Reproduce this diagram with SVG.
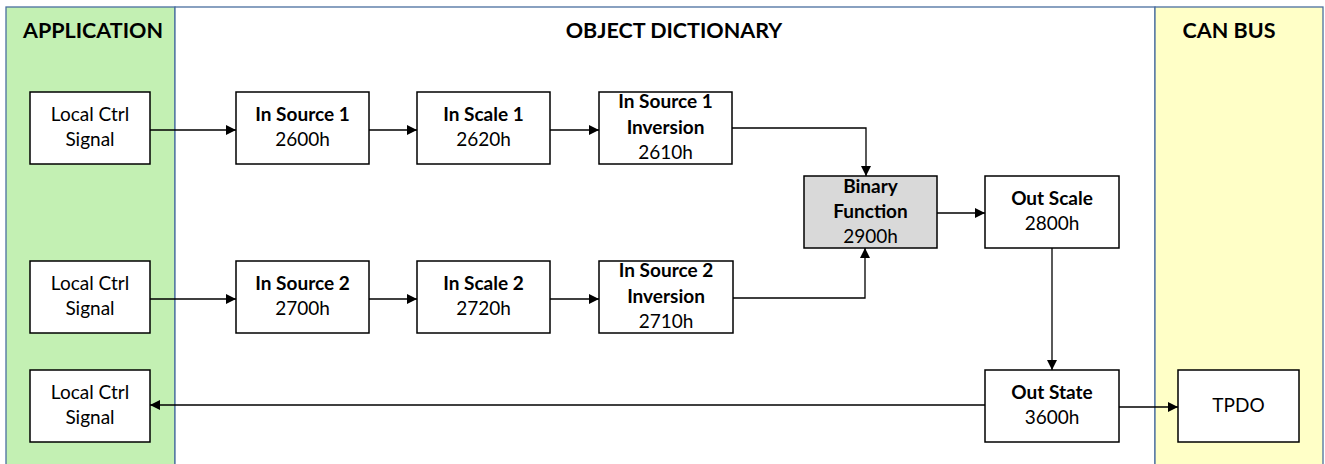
<svg xmlns="http://www.w3.org/2000/svg" width="1325" height="464" viewBox="0 0 1325 464">
<style>
.box{fill:#fff;stroke:#000;stroke-width:1.5}
.t{font-family:Lato,"Liberation Sans",sans-serif;font-size:19px;text-anchor:middle;fill:#000}
.b{font-weight:bold}
.h{font-family:Lato,"Liberation Sans",sans-serif;font-size:21.5px;font-weight:bold;text-anchor:middle;fill:#000}
.c{fill:none;stroke:#000;stroke-width:1.3}
</style>
<defs>
<marker id="ar" viewBox="0 0 10 10" refX="10" refY="5" markerWidth="10" markerHeight="10" markerUnits="userSpaceOnUse" orient="auto">
<path d="M0,0 L10,5 L0,10 Z" fill="#000"/>
</marker>
</defs>
<g id="lanes">
<rect x="0" y="0" width="1325" height="464" fill="#fff"/>
<rect x="6" y="7" width="169" height="460" fill="#c3f0b3" stroke="#4a6f9f" stroke-width="1.3"/>
<rect x="175" y="7" width="980" height="460" fill="#fff" stroke="#4a6f9f" stroke-width="1.3"/>
<rect x="1155" y="7" width="168" height="460" fill="#ffffc7" stroke="#4a6f9f" stroke-width="1.3"/>
<text class="h" x="93" y="38">APPLICATION</text>
<text class="h" x="674" y="38">OBJECT DICTIONARY</text>
<text class="h" x="1229" y="38">CAN BUS</text>
</g>
<g id="connectors">
<line class="c" x1="150" y1="130" x2="236" y2="130" marker-end="url(#ar)"/>
<line class="c" x1="369" y1="130" x2="417" y2="130" marker-end="url(#ar)"/>
<line class="c" x1="550" y1="130" x2="599" y2="130" marker-end="url(#ar)"/>
<polyline class="c" points="732,128 866,128 866,176" marker-end="url(#ar)"/>
<line class="c" x1="937" y1="213" x2="985" y2="213" marker-end="url(#ar)"/>
<line class="c" x1="150" y1="299" x2="236" y2="299" marker-end="url(#ar)"/>
<line class="c" x1="369" y1="299" x2="417" y2="299" marker-end="url(#ar)"/>
<line class="c" x1="550" y1="299" x2="599" y2="299" marker-end="url(#ar)"/>
<polyline class="c" points="733,298 865,298 865,248" marker-end="url(#ar)"/>
<line class="c" x1="1052" y1="248" x2="1052" y2="370" marker-end="url(#ar)"/>
<line class="c" x1="985" y1="405" x2="150" y2="405" marker-end="url(#ar)"/>
<line class="c" x1="1119" y1="407" x2="1178" y2="407" marker-end="url(#ar)"/>
</g>
<g id="lc1"><rect class="box" x="30" y="92" width="120" height="72"/><text class="t" x="90" y="121">Local Ctrl</text><text class="t" x="90" y="146">Signal</text></g>
<g id="insrc1"><rect class="box" x="236" y="92" width="133" height="72"/><text class="t b" x="302.5" y="121">In Source 1</text><text class="t" x="302.5" y="146">2600h</text></g>
<g id="inscale1"><rect class="box" x="417" y="92" width="133" height="72"/><text class="t b" x="483.5" y="121">In Scale  1</text><text class="t" x="483.5" y="146">2620h</text></g>
<g id="inv1"><rect class="box" x="599" y="92" width="133" height="72"/><text class="t b" x="665.5" y="108">In Source 1</text><text class="t b" x="665.5" y="134">Inversion</text><text class="t" x="665.5" y="159">2610h</text></g>
<g id="binary"><rect class="box" x="804" y="176" width="133" height="72" style="fill:#d9d9d9"/><text class="t b" x="870.5" y="193">Binary</text><text class="t b" x="870.5" y="218">Function</text><text class="t" x="870.5" y="243">2900h</text></g>
<g id="outscale"><rect class="box" x="985" y="176" width="134" height="72"/><text class="t b" x="1052" y="205">Out Scale</text><text class="t" x="1052" y="230">2800h</text></g>
<g id="lc2"><rect class="box" x="30" y="261" width="120" height="72"/><text class="t" x="90" y="290">Local Ctrl</text><text class="t" x="90" y="315">Signal</text></g>
<g id="insrc2"><rect class="box" x="236" y="261" width="133" height="72"/><text class="t b" x="302.5" y="290">In Source 2</text><text class="t" x="302.5" y="315">2700h</text></g>
<g id="inscale2"><rect class="box" x="417" y="261" width="133" height="72"/><text class="t b" x="483.5" y="290">In Scale  2</text><text class="t" x="483.5" y="315">2720h</text></g>
<g id="inv2"><rect class="box" x="599" y="261" width="134" height="72"/><text class="t b" x="666" y="277">In Source 2</text><text class="t b" x="666" y="303">Inversion</text><text class="t" x="666" y="328">2710h</text></g>
<g id="lc3"><rect class="box" x="30" y="370" width="120" height="72"/><text class="t" x="90" y="399">Local Ctrl</text><text class="t" x="90" y="424">Signal</text></g>
<g id="outstate"><rect class="box" x="985" y="370" width="134" height="72"/><text class="t b" x="1052" y="399">Out State</text><text class="t" x="1052" y="424">3600h</text></g>
<g id="tpdo"><rect class="box" x="1178" y="370" width="121" height="72"/><text class="t" x="1238.5" y="412">TPDO</text></g>
</svg>
